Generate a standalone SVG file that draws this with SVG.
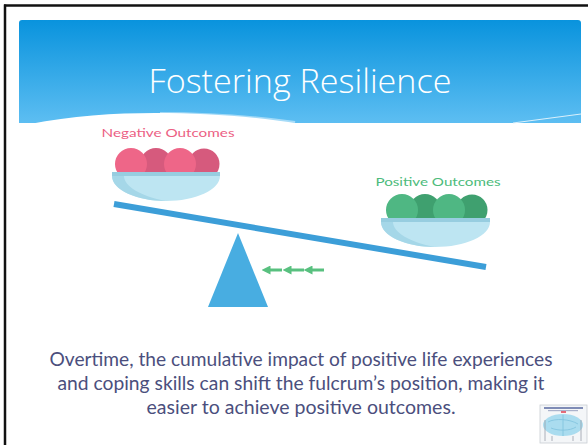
<svg xmlns="http://www.w3.org/2000/svg" width="588" height="445" viewBox="0 0 588 445">
  <defs>
    <linearGradient id="hdr" x1="0" y1="0" x2="0" y2="1">
      <stop offset="0" stop-color="#0993dd"/>
      <stop offset="1" stop-color="#5dbef2"/>
    </linearGradient>
    <marker id="ah" viewBox="0 0 6 6" refX="1" refY="3" markerWidth="3" markerHeight="3" orient="auto-start-reverse">
      <path d="M0,0 L6,3 L0,6 Z" fill="#58c07f"/>
    </marker>
    <style>
      .title { font-family: "Open Sans", "Lato", sans-serif; font-weight: 300; font-size: 33px; fill: #ffffff; }
      .lbl { font-family: "Lato", "Open Sans", sans-serif; font-size: 12px; }
      .body { font-family: "Lato", "Open Sans", sans-serif; font-size: 18.5px; fill: #4b4f7d; }
      .rim { fill: #97cde0; }
      .bowl { fill: #bde5f2; }
      .shade { fill: #a5d7e8; }
      .dash { stroke: #58c07f; stroke-width: 3; fill: none; }
    </style>
  </defs>

  <rect width="588" height="445" fill="#ffffff"/>

  <!-- window frame edges -->
  <line x1="5" y1="4.5" x2="5" y2="445" stroke="#111111" stroke-width="2.5"/>
  <line x1="4" y1="5.5" x2="588" y2="5.5" stroke="#111111" stroke-width="2.5"/>

  <!-- header band -->
  <g id="header">
    <path d="M22,20 H578 Q581,20 581,23 V123 H19 V23 Q19,20 22,20 Z" fill="url(#hdr)"/>
    <path d="M30,124 C70,116 115,113 155,113 C205,113 250,116 300,124 Z" fill="#ffffff"/>
    <path d="M160,114 C205,114 250,117 295,123" stroke="#ffffff" stroke-opacity="0.45" stroke-width="4" fill="none"/>
    <path d="M513,123 L581,114" stroke="#d9f0fc" stroke-width="1" fill="none"/>
    <text class="title" x="300" y="93" text-anchor="middle" textLength="303" lengthAdjust="spacingAndGlyphs">Fostering Resilience</text>
  </g>

  <!-- beam and fulcrum -->
  <g id="beam">
    <line x1="114" y1="204" x2="486" y2="267" stroke="#3c9ed8" stroke-width="6"/>
  </g>
  <g id="fulcrum">
    <polygon points="238,233 268,307 208,307" fill="#48ade1"/>
  </g>

  <!-- negative outcomes bowl -->
  <g id="negative">
    <text class="lbl" x="168" y="137" text-anchor="middle" fill="#ec5f84" textLength="133" lengthAdjust="spacingAndGlyphs">Negative Outcomes</text>
    <circle cx="204" cy="164" r="15.5" fill="#d65a7d"/>
    <circle cx="156" cy="164" r="16" fill="#d65a7d"/>
    <circle cx="131" cy="164" r="16" fill="#ee6688"/>
    <circle cx="180" cy="164" r="16" fill="#ee6688"/>
    <rect class="rim" x="112" y="172" width="108" height="4"/>
    <path class="bowl" d="M112,176 H220 C220,190 195,201 166,201 C137,201 112,190 112,176 Z"/>
    <path class="shade" d="M112,176 H124 C124,186 140,196 166,201 C137,201 112,190 112,176 Z"/>
  </g>

  <!-- positive outcomes bowl -->
  <g id="positive">
    <text class="lbl" x="438" y="186" text-anchor="middle" fill="#4cbb7b" textLength="125" lengthAdjust="spacingAndGlyphs">Positive Outcomes</text>
    <circle cx="472" cy="210" r="15.5" fill="#3fa06f"/>
    <circle cx="425" cy="210" r="16" fill="#3fa06f"/>
    <circle cx="402" cy="210" r="16" fill="#4fb783"/>
    <circle cx="449" cy="210" r="16" fill="#4fb783"/>
    <rect class="rim" x="381" y="218" width="109" height="4"/>
    <path class="bowl" d="M381,222 H490 C490,236 465,247 435,247 C406,247 381,236 381,222 Z"/>
    <path class="shade" d="M381,222 H393 C393,232 409,242 435,247 C406,247 381,236 381,222 Z"/>
  </g>

  <!-- leftward shift arrows -->
  <g id="connectors">
    <line class="dash" x1="282" y1="270" x2="269" y2="270" marker-end="url(#ah)"/>
    <line class="dash" x1="304" y1="270" x2="290" y2="270" marker-end="url(#ah)"/>
    <line class="dash" x1="324" y1="270" x2="311" y2="270" marker-end="url(#ah)"/>
  </g>

  <!-- caption -->
  <g id="caption">
    <text class="body" x="301" y="366" text-anchor="middle" textLength="503" lengthAdjust="spacingAndGlyphs">Overtime, the cumulative impact of positive life experiences</text>
    <text class="body" x="301" y="390" text-anchor="middle" textLength="487" lengthAdjust="spacingAndGlyphs">and coping skills can shift the fulcrum’s position, making it</text>
    <text class="body" x="301" y="414" text-anchor="middle" textLength="309" lengthAdjust="spacingAndGlyphs">easier to achieve positive outcomes.</text>
  </g>

  <!-- small brain thumbnail -->
  <g id="thumbnail">
    <rect x="540" y="405" width="47" height="38" fill="#f4f6f8" stroke="#c9cdd2" stroke-width="0.8"/>
    <rect x="544" y="407" width="39" height="2" fill="#4d5f9a" opacity="0.7"/>
    <rect x="548" y="410" width="30" height="1.2" fill="#8a95b8" opacity="0.7"/>
    <rect x="561" y="411" width="5" height="2" fill="#e04a5a" opacity="0.8"/>
    <ellipse cx="563" cy="425" rx="20" ry="11" fill="#aadcef"/>
    <path d="M548,422 C555,418 570,419 578,424 M551,428 C558,431 570,431 576,427 M563,415 V436" stroke="#7fc2dd" stroke-width="0.8" fill="none"/>
    <path d="M545,420 V441 M581,420 V441 M552,436 V441 M573,436 V441" stroke="#9aa0a8" stroke-width="0.8"/>
  </g>
</svg>
